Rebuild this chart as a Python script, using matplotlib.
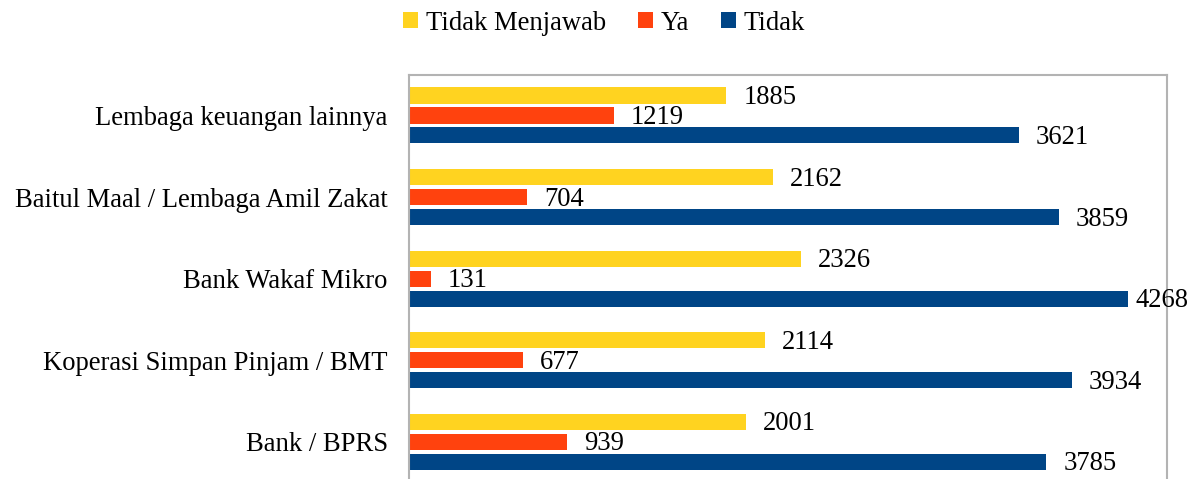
import matplotlib
matplotlib.use("Agg")
import matplotlib.pyplot as plt
from matplotlib.patches import Patch
import numpy as np

categories = ["Bank / BPRS", "Koperasi Simpan Pinjam / BMT", "Bank Wakaf Mikro",
              "Baitul Maal / Lembaga Amil Zakat", "Lembaga keuangan lainnya"]
tidak_menjawab = [2001, 2114, 2326, 2162, 1885]
ya = [939, 677, 131, 704, 1219]
tidak = [3785, 3934, 4268, 3859, 3621]
series_names = ["Tidak Menjawab", "Ya", "Tidak"]
colors = ["#FFD320", "#FF420E", "#004586"]

plt.rcParams['font.family'] = ['Liberation Serif', 'DejaVu Serif']
FS = 19.2

fig = plt.figure(figsize=(11.96, 4.79), dpi=100)
ax = fig.add_axes([408.5/1196, -3.5/479, (1167-408.5)/1196, (482.5-74.7)/479])

y = np.arange(len(categories))
step = 0.245
h = 0.197
offsets = [step, 0, -step]
xmax = 4500
for vals, off, c in zip([tidak_menjawab, ya, tidak], offsets, colors):
    bars = ax.barh(y + off, vals, height=h, color=c)
    for b, v in zip(bars, vals):
        dx = 17 if v < 0.93 * xmax else 8
        ax.annotate(str(v), (b.get_width(), b.get_y() + b.get_height()/2),
                    xytext=(dx, -2), textcoords='offset pixels',
                    va='center', ha='left', fontsize=FS, annotation_clip=False)

ax.set_xlim(0, xmax)
ax.set_ylim(-0.5, 4.5)
ax.set_yticks(y)
ax.set_yticklabels(categories, fontsize=FS)
ax.tick_params(axis='y', length=0, pad=15)
ax.set_xticks([])
for s in ax.spines.values():
    s.set_color('#b3b3b3')
    s.set_linewidth(1.5)

handles = [Patch(facecolor=c, edgecolor='none') for c in colors]
fig.legend(handles, series_names, loc='center', bbox_to_anchor=(604/1196, 1 - 23/479),
           ncol=3, frameon=False, fontsize=FS, handlelength=0.55, handleheight=0.55,
           handletextpad=0.3, columnspacing=1.2, borderaxespad=0)

fig.savefig("out.png", dpi=100)
